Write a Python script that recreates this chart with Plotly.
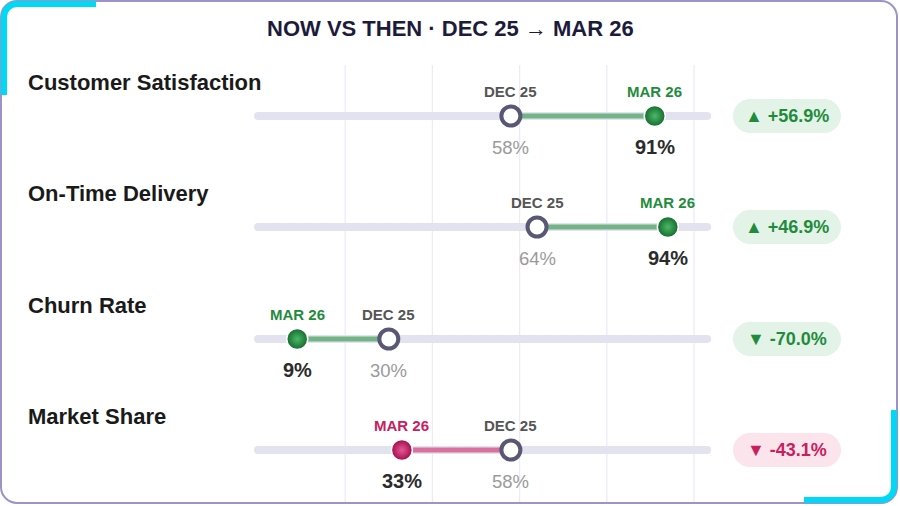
import plotly.graph_objects as go

# ---------------- data ----------------
metrics = ["Customer Satisfaction", "On-Time Delivery", "Churn Rate", "Market Share"]
then_vals = [58, 64, 30, 58]          # DEC 25
now_vals = [91, 94, 9, 33]            # MAR 26
higher_is_better = [True, True, False, True]
then_label = "DEC 25"
now_label = "MAR 26"
grid_vals = [20, 40, 60, 80, 100]
track_range = [0, 103]
title_text = "NOW VS THEN · DEC 25 → MAR 26"

# ---------------- styling / layout ----------------
W, H = 900, 506
X0_PX, PX_PER = 258.0, 4.36
row_y = [116, 227, 339, 450]
FONT = "Liberation Sans, Arial, sans-serif"
GREEN = "#1f8c3d"
GREEN_LINE = "#72b486"
GREEN_PILL = "#e4f3e7"
MAG = "#c8205f"
MAG_LINE = "#d9719c"
MAG_PILL = "#fbe4ec"
TRACK = "#e2e3ee"
GRID = "#ece9fb"
OPEN_EDGE = "#595774"

def px(x):
    return x / W

def py(y):
    return 1 - y / H

def P(x, y):
    return f"{px(x):.5f},{py(y):.5f}"

def rr_path(x0, y0, x1, y1, r):
    k = 0.5523 * r
    d = f"M {P(x0 + r, y0)} L {P(x1 - r, y0)} "
    d += f"C {P(x1 - r + k, y0)} {P(x1, y0 + r - k)} {P(x1, y0 + r)} "
    d += f"L {P(x1, y1 - r)} "
    d += f"C {P(x1, y1 - r + k)} {P(x1 - r + k, y1)} {P(x1 - r, y1)} "
    d += f"L {P(x0 + r, y1)} "
    d += f"C {P(x0 + r - k, y1)} {P(x0, y1 - r + k)} {P(x0, y1 - r)} "
    d += f"L {P(x0, y0 + r)} "
    d += f"C {P(x0, y0 + r - k)} {P(x0 + r - k, y0)} {P(x0 + r, y0)} Z"
    return d

fig = go.Figure()
shapes = []
annotations = []

# card
shapes.append(dict(type="path", xref="paper", yref="paper", path=rr_path(1, 1, 897, 503, 16),
                   line=dict(color="#9d93c6", width=2), fillcolor="rgba(0,0,0,0)", layer="below"))
# cyan accents
r = 13
k = 0.5523 * r
tl = (f"M {P(96, 4)} L {P(4 + r, 4)} C {P(4 + r - k, 4)} {P(4, 4 + r - k)} {P(4, 4 + r)} "
      f"L {P(4, 95)}")
br = (f"M {P(804, 500)} L {P(894 - r, 500)} C {P(894 - r + k, 500)} {P(894, 500 - r + k)} "
      f"{P(894, 500 - r)} L {P(894, 410)}")
for d in (tl, br):
    shapes.append(dict(type="path", xref="paper", yref="paper", path=d,
                       line=dict(color="#00d9f5", width=6), layer="below"))

# gridlines
for g in grid_vals:
    shapes.append(dict(type="line", xref="x", yref="y", x0=g, x1=g, y0=65, y1=502,
                       line=dict(color=GRID, width=1.2), layer="below"))

for i, m in enumerate(metrics):
    y = row_y[i]
    old, new = then_vals[i], now_vals[i]
    change = (new - old) / old * 100
    good = (change > 0) == higher_is_better[i]
    col = GREEN if good else MAG
    lcol = GREEN_LINE if good else MAG_LINE
    pill = GREEN_PILL if good else MAG_PILL
    center = "#4cb869" if good else "#e8579a"
    edge = "#146b2c" if good else "#a00f48"

    # track with rounded caps
    fig.add_trace(go.Scatter(x=track_range, y=[y, y], mode="lines+markers",
                             line=dict(color=TRACK, width=8),
                             marker=dict(size=8, color=TRACK, line=dict(width=0)),
                             hoverinfo="skip", showlegend=False))
    # connector
    fig.add_trace(go.Scatter(x=[old, new], y=[y, y], mode="lines",
                             line=dict(color=lcol, width=5),
                             hoverinfo="skip", showlegend=False))
    # old marker (open)
    fig.add_trace(go.Scatter(x=[old], y=[y], mode="markers",
                             marker=dict(size=19, color="white",
                                         line=dict(color=OPEN_EDGE, width=4)),
                             hoverinfo="skip", showlegend=False))
    # new marker (sphere)
    fig.add_trace(go.Scatter(x=[new], y=[y], mode="markers",
                             marker=dict(size=21, color=edge,
                                         gradient=dict(type="radial", color=center),
                                         line=dict(color="white", width=1.5)),
                             hoverinfo="skip", showlegend=False))

    # labels above markers
    annotations.append(dict(x=old, y=y - 25, xref="x", yref="y", text=f"<b>{then_label}</b>",
                            showarrow=False, font=dict(family=FONT, size=15, color="#555555"),
                            xanchor="center", yanchor="middle"))
    annotations.append(dict(x=new, y=y - 25, xref="x", yref="y", text=f"<b>{now_label}</b>",
                            showarrow=False, font=dict(family=FONT, size=15, color=col),
                            xanchor="center", yanchor="middle"))
    # values below
    annotations.append(dict(x=old, y=y + 31, xref="x", yref="y", text=f"{old}%",
                            showarrow=False, font=dict(family=FONT, size=18.5, color="#9a9a9a"),
                            xanchor="center", yanchor="middle"))
    annotations.append(dict(x=new, y=y + 31, xref="x", yref="y", text=f"<b>{new}%</b>",
                            showarrow=False, font=dict(family=FONT, size=20, color="#2b2b2b"),
                            xanchor="center", yanchor="middle"))
    # row label
    annotations.append(dict(x=px(26), y=y - 34, xref="paper", yref="y", text=f"<b>{m}</b>",
                            showarrow=False, font=dict(family=FONT, size=22, color="#1a1a1a"),
                            xanchor="left", yanchor="middle"))
    # pill
    shapes.append(dict(type="path", xref="paper", yref="paper",
                       path=rr_path(733, y - 17, 841, y + 17, 17),
                       fillcolor=pill, line=dict(width=0), layer="below"))
    arrow = "▲" if change > 0 else "▼"
    sign = "+" if change > 0 else ""
    annotations.append(dict(x=px(787), y=y, xref="paper", yref="y",
                            text=f"<b>{arrow} {sign}{change:.1f}%</b>",
                            showarrow=False, font=dict(family=FONT, size=18, color=col),
                            xanchor="center", yanchor="middle"))

annotations.append(dict(x=0.5, y=28, xref="paper", yref="y", text=f"<b>{title_text}</b>",
                        showarrow=False, font=dict(family=FONT, size=22, color="#1d1b3c"),
                        xanchor="center", yanchor="middle"))

fig.update_layout(
    width=W, height=H,
    margin=dict(l=0, r=0, t=0, b=0),
    paper_bgcolor="white", plot_bgcolor="rgba(0,0,0,0)",
    xaxis=dict(range=[-X0_PX / PX_PER, (W - X0_PX) / PX_PER], visible=False, fixedrange=True),
    yaxis=dict(range=[H, 0], visible=False, fixedrange=True),
    shapes=shapes, annotations=annotations,
    showlegend=False,
)

fig.write_html("out.html", config={"displayModeBar": False},
               post_script="document.body.style.margin='0';document.body.style.overflow='hidden';")
